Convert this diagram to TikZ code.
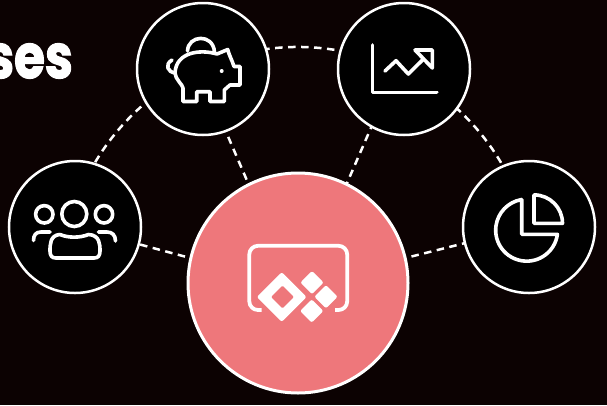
\documentclass[tikz,border=0pt]{standalone}
\usepackage{fontspec}
\newfontfamily\headfont[FakeBold=2.2]{Poppins Bold}
\definecolor{bgc}{HTML}{0C0202}
\definecolor{salmon}{HTML}{EE777B}
\tikzset{
  hub/.style={circle,draw=white,line width=2.5pt,fill=black,minimum size=132pt,inner sep=0pt,outer sep=0pt},
  mainhub/.style={circle,draw=white,line width=3pt,fill=salmon,minimum size=220pt,inner sep=0pt,outer sep=0pt},
  link/.style={draw=white,line width=2.5pt,dash pattern=on 7.5pt off 5.5pt},
  icon/.style={draw=white,line width=3.6pt,line join=round,line cap=round},
  fat/.style={fill=white,draw=white,line width=4pt,line join=round},
}
\begin{document}
\begin{tikzpicture}[x=1pt,y=-1pt]
\useasboundingbox (0,0) rectangle (607,405);
\fill[bgc] (0,0) rectangle (607,405);
\begin{scope}
\clip (0,0) rectangle (607,405);
\node[anchor=base east,inner sep=0pt,text=white,xscale=0.82,font=\headfont\fontsize{61}{61}\selectfont] (title) at (73,78) {ses};
\coordinate (ppl) at (75,227);
\coordinate (pig) at (203,69);
\coordinate (chart) at (404,69);
\coordinate (pie) at (529,227);
\coordinate (hubc) at (298,283);
\coordinate (pigaim) at (199,69);
\coordinate (pigfoot) at (298,299);
\coordinate (chartaim) at (396.5,69);
\coordinate (chartfoot) at (298,296);
\coordinate (pplaim) at (75,227);
\coordinate (pplfoot) at (298,287);
\coordinate (pieaim) at (529,227);
\coordinate (piefoot) at (298,285);
\draw[link] (hubc) ++(195:236) arc[start angle=195,end angle=345,radius=236];
\draw[link] (pplfoot) -- (pplaim);
\draw[link] (pigfoot) -- (pigaim);
\draw[link] (chartfoot) -- (chartaim);
\draw[link] (piefoot) -- (pieaim);
\node[hub] (nppl) at (ppl) {};
\node[hub] (npig) at (pig) {};
\node[hub] (nchart) at (chart) {};
\node[hub] (npie) at (pie) {};
\node[mainhub] (nmain) at (hubc) {};
% people
\draw[icon] (74.3,214) circle (12.5);
\draw[icon] (44.3,214.3) circle (8.7);
\draw[icon] (104,214.3) circle (8.7);
\draw[icon] (60,234.5) .. controls (50,235) and (50,245) .. (50,251) .. controls (50,256) and (52,258) .. (56,258) -- (94,258) .. controls (98,258) and (100,256) .. (100,251) .. controls (100,245) and (100,235) .. (88.5,234.5) .. controls (80,238) and (68,238) .. (60,234.5);
\draw[icon] (33.5,240.5) .. controls (33.5,235) and (36,232) .. (41,232) -- (50,232);
\draw[icon] (98.5,232) -- (107,232) .. controls (112,232) and (115.5,235) .. (115.5,241);
% piggy
\draw[icon] (187.5,51) .. controls (188,35) and (213,33) .. (214.5,52);
\draw[icon] (183,101.5) -- (196.7,101.5) -- (196.7,91.7) -- (210,91.7) -- (210,101.5) -- (224.3,101.5) -- (224.3,90) -- (230,85) -- (240,85) -- (240,66.5) -- (234,66.5) .. controls (232,60) and (229,55) .. (227.7,49.5) -- (217,54) .. controls (200,49) and (176,52) .. (175,73) .. controls (175,79) and (183,85) .. (183,88) -- cycle;
\draw[icon] (175,73) .. controls (168,72) and (164,65) .. (172,60);
\fill[white] (221.7,71) circle (2);
% chart
\draw[icon] (372.3,45) -- (372.3,92.3) -- (436.7,92.3);
\draw[icon] (385,71) -- (396,60.7) -- (408.3,74) -- (423.5,59);
\draw[icon] (415,50) -- (432.3,50) -- (432.3,68) -- cycle;
% pie
\draw[icon] (521.7,199.5) -- (521.7,234.3) -- (557.4,234.3) arc[start angle=7.7,end angle=260,radius=31];
\draw[icon] (534,195) -- (534,223.3) -- (562.5,223.3) arc[start angle=0,end angle=-90,radius=28.4];
% main icon
\draw[icon,line width=3.8pt,line cap=butt] (261.7,310) -- (258,310) arc[start angle=90,end angle=180,radius=8.7] -- (249.3,254.5) arc[start angle=180,end angle=270,radius=8.7] -- (338.5,245.8) arc[start angle=270,end angle=360,radius=8.7] -- (347.2,301.3) arc[start angle=0,end angle=90,radius=8.7] -- (335,310);
\draw[fat] (281.7,275) -- (303.7,297) -- (281.7,319) -- (259.7,297) -- cycle;
\draw[fill=salmon,draw=salmon,line width=2pt,line join=round] (282.5,287) -- (292.5,297) -- (282.5,307) -- (272.5,297) -- cycle;
\draw[fat] (312,273.8) -- (320.8,282.6) -- (312,291.4) -- (303.2,282.6) -- cycle;
\draw[fat] (326,287.9) -- (334.8,296.7) -- (326,305.5) -- (317.2,296.7) -- cycle;
\draw[fat] (311.7,302.2) -- (320.5,311) -- (311.7,319.8) -- (302.9,311) -- cycle;
\end{scope}
\end{tikzpicture}
\end{document}
